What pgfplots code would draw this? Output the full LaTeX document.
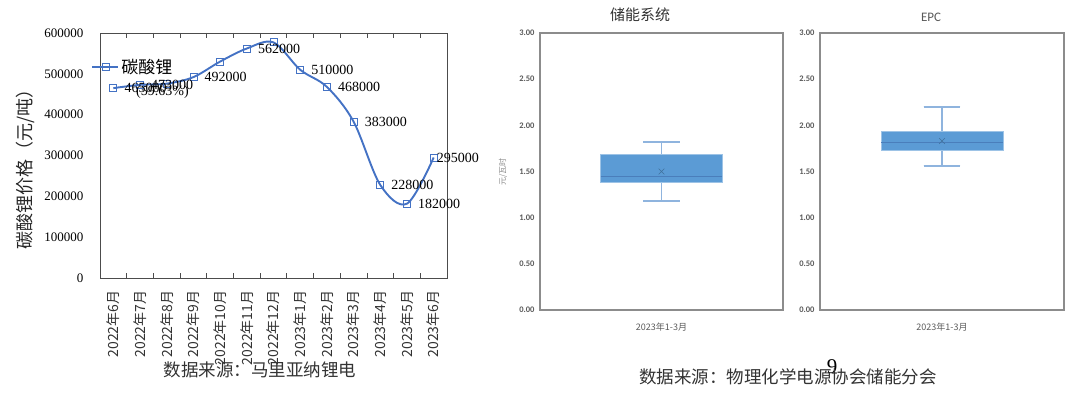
\documentclass[border=0pt]{standalone}
\usepackage{pgfplots}
\pgfplotsset{compat=1.18}
\usepackage{pgfplotstable}
\usepgfplotslibrary{statistics}
\usepackage{fontspec}
\setmainfont{Liberation Serif}
\newfontfamily\cjk{Noto Sans CJK SC}
\newfontfamily\carl{Carlito}
\definecolor{lineblue}{HTML}{4472C4}
\definecolor{boxblue}{HTML}{5B9BD5}
\definecolor{boxedge}{HTML}{9DC3E6}
\definecolor{whisk}{HTML}{8FB4DE}
\definecolor{medc}{HTML}{4A7EBB}
\definecolor{meanc}{HTML}{41719C}
\definecolor{gtxt}{HTML}{595959}
\definecolor{gframe}{HTML}{8C8C8C}

\pgfplotstableread{
x y
0 465000
1 473000
2 476000
3 492000
4 530000
5 562000
6 577000
7 510000
8 468000
9 383000
10 228000
11 182000
12 295000
}\lidata

\pgfplotstableread{
x y lab
0 465000 465000
1 473000 473000
3 492000 492000
5 562000 562000
7 510000 510000
8 468000 468000
9 383000 383000
10 228000 228000
11 182000 182000
}\lilab

\pgfplotstableread{
x y lab
12 295000 295000
}\lilabb

\pgfplotsset{
  rbox/.style={
    scale only axis, anchor=south west, height=277pt,
    xmin=0.5, xmax=1.5, ymin=0, ymax=3,
    ytick={0,0.5,1,1.5,2,2.5,3}, xtick={1},
    xticklabels={2023年1-3月},
    major tick length=0pt,
    axis line style={draw=gframe, line width=1.1pt},
    y tick label style={/pgf/number format/fixed, /pgf/number format/fixed zerofill,
      /pgf/number format/precision=2, /pgf/number format/assume math mode=true,
      font=\carl\bfseries\fontsize{8.5}{8.5}\selectfont, text=gtxt, xshift=-2pt},
    x tick label style={font=\cjk\fontsize{9}{9}\selectfont, text=gtxt, yshift=-9pt},
  },
  rboxplot/.style={draw=boxedge, fill=boxblue, line width=0.6pt,
    boxplot/draw direction=y,
    boxplot/every median/.style={draw=medc, line width=0.8pt},
    boxplot/every whisker/.style={draw=whisk, line width=1.3pt}},
}

\begin{document}
\begin{tikzpicture}
\useasboundingbox (0pt,0pt) rectangle (1080pt,398pt);

% ---------- left: lithium carbonate price ----------
\begin{axis}[
  at={(100pt,120pt)}, anchor=south west, scale only axis,
  width=347pt, height=245pt,
  xmin=-0.5, xmax=12.5, ymin=0, ymax=600000,
  axis line style={draw=black!70, line width=0.9pt},
  xtick={0,...,12},
  xticklabels={2022年6月,2022年7月,2022年8月,2022年9月,2022年10月,2022年11月,2022年12月,2023年1月,2023年2月,2023年3月,2023年4月,2023年5月,2023年6月},
  x tick label style={rotate=90, anchor=east, font=\cjk\fontsize{14}{14}\selectfont, text=black!80, xshift=-9pt},
  minor xtick={0.5,1.5,...,11.5},
  major tick length=0pt, minor tick length=5pt, tick align=inside,
  minor tick style={draw=black!70, line width=0.8pt},
  ytick={0,100000,200000,300000,400000,500000,600000},
  scaled y ticks=false,
  y tick label style={/pgf/number format/fixed, /pgf/number format/1000 sep={},
    /pgf/number format/assume math mode=true, font=\fontsize{13}{13}\selectfont, xshift=-13pt},
  clip=false,
  legend style={at={(-0.025,0.861)}, anchor=west, draw=none, fill=none,
    font=\cjk\fontsize{17}{17}\selectfont, inner sep=0pt},
  legend image code/.code={\draw[#1, mark repeat=2, mark phase=2] plot coordinates {(0pt,0pt) (13pt,0pt) (26pt,0pt)};},
]
\addplot[lineblue, line width=1.9pt, smooth, tension=0.55, mark=square, mark size=3.5pt,
  mark options={fill=white, draw=lineblue, line width=0.8pt, solid}] table {\lidata};
\addlegendentry{碳酸锂}
\addplot[draw=none, mark=none, nodes near coords, point meta=explicit symbolic, forget plot,
  nodes near coords style={anchor=west, xshift=10pt, font=\fontsize{14}{14}\selectfont, text=black, inner sep=1pt}]
  table[meta=lab] {\lilab};
\addplot[draw=none, mark=none, nodes near coords, point meta=explicit symbolic, forget plot,
  nodes near coords style={anchor=west, xshift=2pt, font=\fontsize{14}{14}\selectfont, text=black, inner sep=1pt}]
  table[meta=lab] {\lilabb};
\node[font=\fontsize{14}{14}\selectfont, anchor=west, inner sep=0pt] at (axis cs:0.85,456000) {(59.63\%)};
\end{axis}

\node[rotate=90, font=\cjk\fontsize{18}{18}\selectfont, text=black!85] at (25pt,233pt) {碳酸锂价格（元/吨）};
\node[font=\cjk\fontsize{17.5}{17.5}\selectfont, text=black!80] at (260pt,28pt) {数据来源：马里亚纳锂电};

% ---------- right 1: storage system ----------
\begin{axis}[rbox, at={(540pt,88pt)}, width=243pt]
\addplot[rboxplot, boxplot prepared={draw position=1, lower whisker=1.18, lower quartile=1.38,
  median=1.45, upper quartile=1.69, upper whisker=1.82, box extend=0.5, whisker extend=0.15}]
  coordinates {};
\addplot[only marks, mark=x, mark size=4pt, mark options={draw=meanc, line width=0.6pt}] coordinates {(1,1.50)};
\end{axis}
\node[rotate=90, font=\cjk\fontsize{8}{8}\selectfont, text=gframe] at (503pt,226pt) {元/瓦时};
\node[font=\cjk\fontsize{15}{15}\selectfont, text=black!80] at (640pt,383pt) {储能系统};

% ---------- right 2: EPC ----------
\begin{axis}[rbox, at={(820pt,88pt)}, width=244pt]
\addplot[rboxplot, boxplot prepared={draw position=1, lower whisker=1.56, lower quartile=1.73,
  median=1.81, upper quartile=1.93, upper whisker=2.20, box extend=0.5, whisker extend=0.15}]
  coordinates {};
\addplot[only marks, mark=x, mark size=4pt, mark options={draw=meanc, line width=0.6pt}] coordinates {(1,1.83)};
\end{axis}
\node[font=\carl\fontsize{13}{13}\selectfont, text=gtxt] at (931pt,381pt) {EPC};

\node[font=\fontsize{21}{21}\selectfont] at (832pt,31pt) {9};
\node[font=\cjk\fontsize{17.5}{17.5}\selectfont, text=black!80] at (788pt,21pt) {数据来源：物理化学电源协会储能分会};
\end{tikzpicture}
\end{document}
